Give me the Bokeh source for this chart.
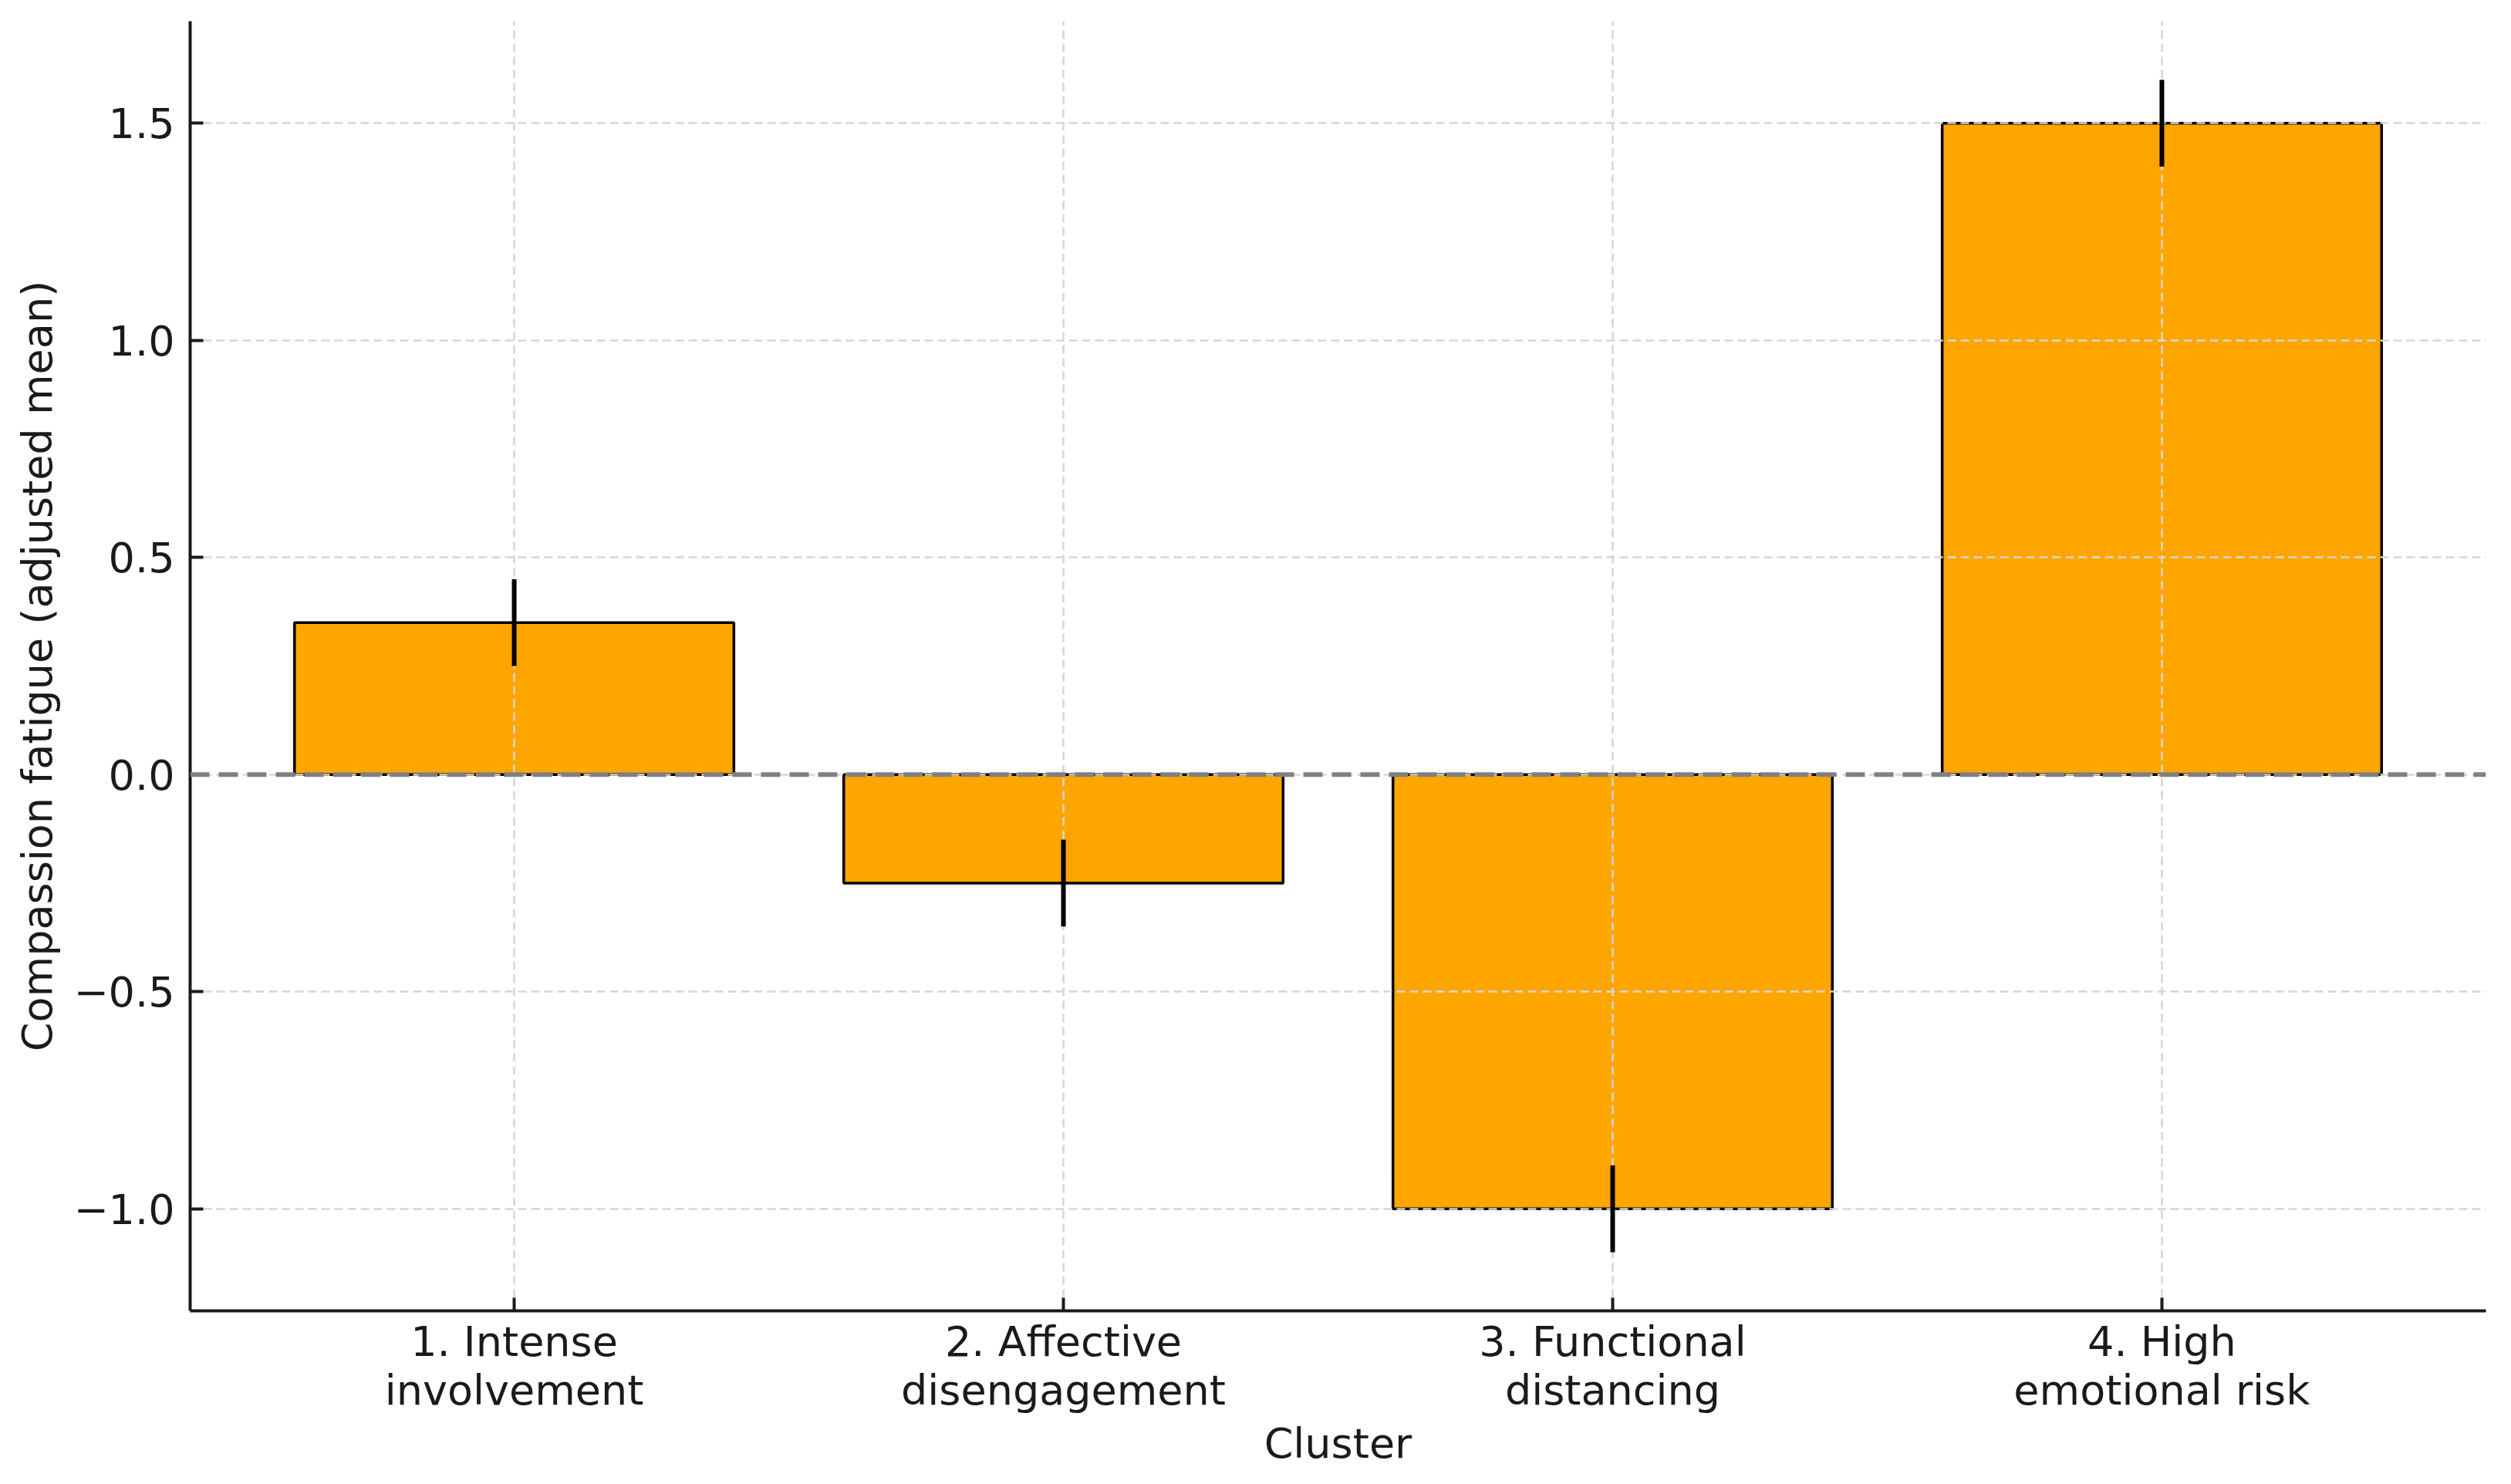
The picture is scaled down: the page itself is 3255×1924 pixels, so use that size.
from bokeh.plotting import figure
from bokeh.models import FactorRange, Range1d, FixedTicker, Span
from bokeh.embed import file_html
from bokeh.resources import INLINE

categories = ["1. Intense\ninvolvement", "2. Affective\ndisengagement",
              "3. Functional\ndistancing", "4. High\nemotional risk"]
means = [0.35, -0.25, -1.0, 1.5]
errors = [0.1, 0.1, 0.1, 0.1]
y_ticks = [-1.0, -0.5, 0.0, 0.5, 1.0, 1.5]
y_tick_labels = ["\u22121.0", "\u22120.5", "0.0", "0.5", "1.0", "1.5"]

FONT = "DejaVu Sans"
FS = "54px"
TXT = "#1a1a1a"

p = figure(
    x_range=FactorRange(factors=categories, range_padding=0.045),
    y_range=Range1d(-1.235, 1.735),
    frame_width=2976, frame_height=1672,
    min_border_left=246, min_border_right=17, min_border_top=27, min_border_bottom=209,
    output_backend="svg", toolbar_location=None,
    background_fill_color="white", border_fill_color="white",
)
p.outline_line_color = None

bars = p.vbar(x=categories, top=means, bottom=0, width=0.8,
              fill_color="#FFA500", line_color="black", line_width=3.5)
bars.level = "image"

lower = [m - e for m, e in zip(means, errors)]
upper = [m + e for m, e in zip(means, errors)]
p.segment(x0=categories, y0=lower, x1=categories, y1=upper,
          line_color="black", line_width=6)

zero = Span(location=0, dimension="width", line_color="#808080",
            line_dash="25 12", line_width=6)
p.add_layout(zero)

# grids
for g in (p.xgrid, p.ygrid):
    g.grid_line_color = "#d6d6d6"
    g.grid_line_dash = "11 6"
    g.grid_line_width = 2.5
p.ygrid.ticker = FixedTicker(ticks=y_ticks)

# axes
p.yaxis.ticker = FixedTicker(ticks=y_ticks)
p.yaxis.major_label_overrides = {t: l for t, l in zip(y_ticks, y_tick_labels)}
p.yaxis.axis_label = "Compassion fatigue (adjusted mean)"
p.xaxis.axis_label = "Cluster"

for ax in (p.xaxis[0], p.yaxis[0]):
    ax.axis_line_color = TXT
    ax.axis_line_width = 4
    ax.major_tick_line_color = TXT
    ax.major_tick_line_width = 4
    ax.major_tick_in = 17
    ax.major_tick_out = 0
    ax.minor_tick_line_color = None
    ax.major_label_text_font = FONT
    ax.major_label_text_font_size = FS
    ax.major_label_text_color = TXT
    ax.axis_label_text_font = FONT
    ax.axis_label_text_font_size = FS
    ax.axis_label_text_font_style = "normal"
    ax.axis_label_text_color = TXT

p.yaxis.major_label_standoff = 20
p.yaxis.axis_label_standoff = 12
p.xaxis.major_label_standoff = 8
p.xaxis.major_label_text_line_height = 1.0
p.xaxis.axis_label_standoff = 3
p.xaxis.major_label_orientation = "horizontal"

open("out.html", "w").write(file_html(p, INLINE))
